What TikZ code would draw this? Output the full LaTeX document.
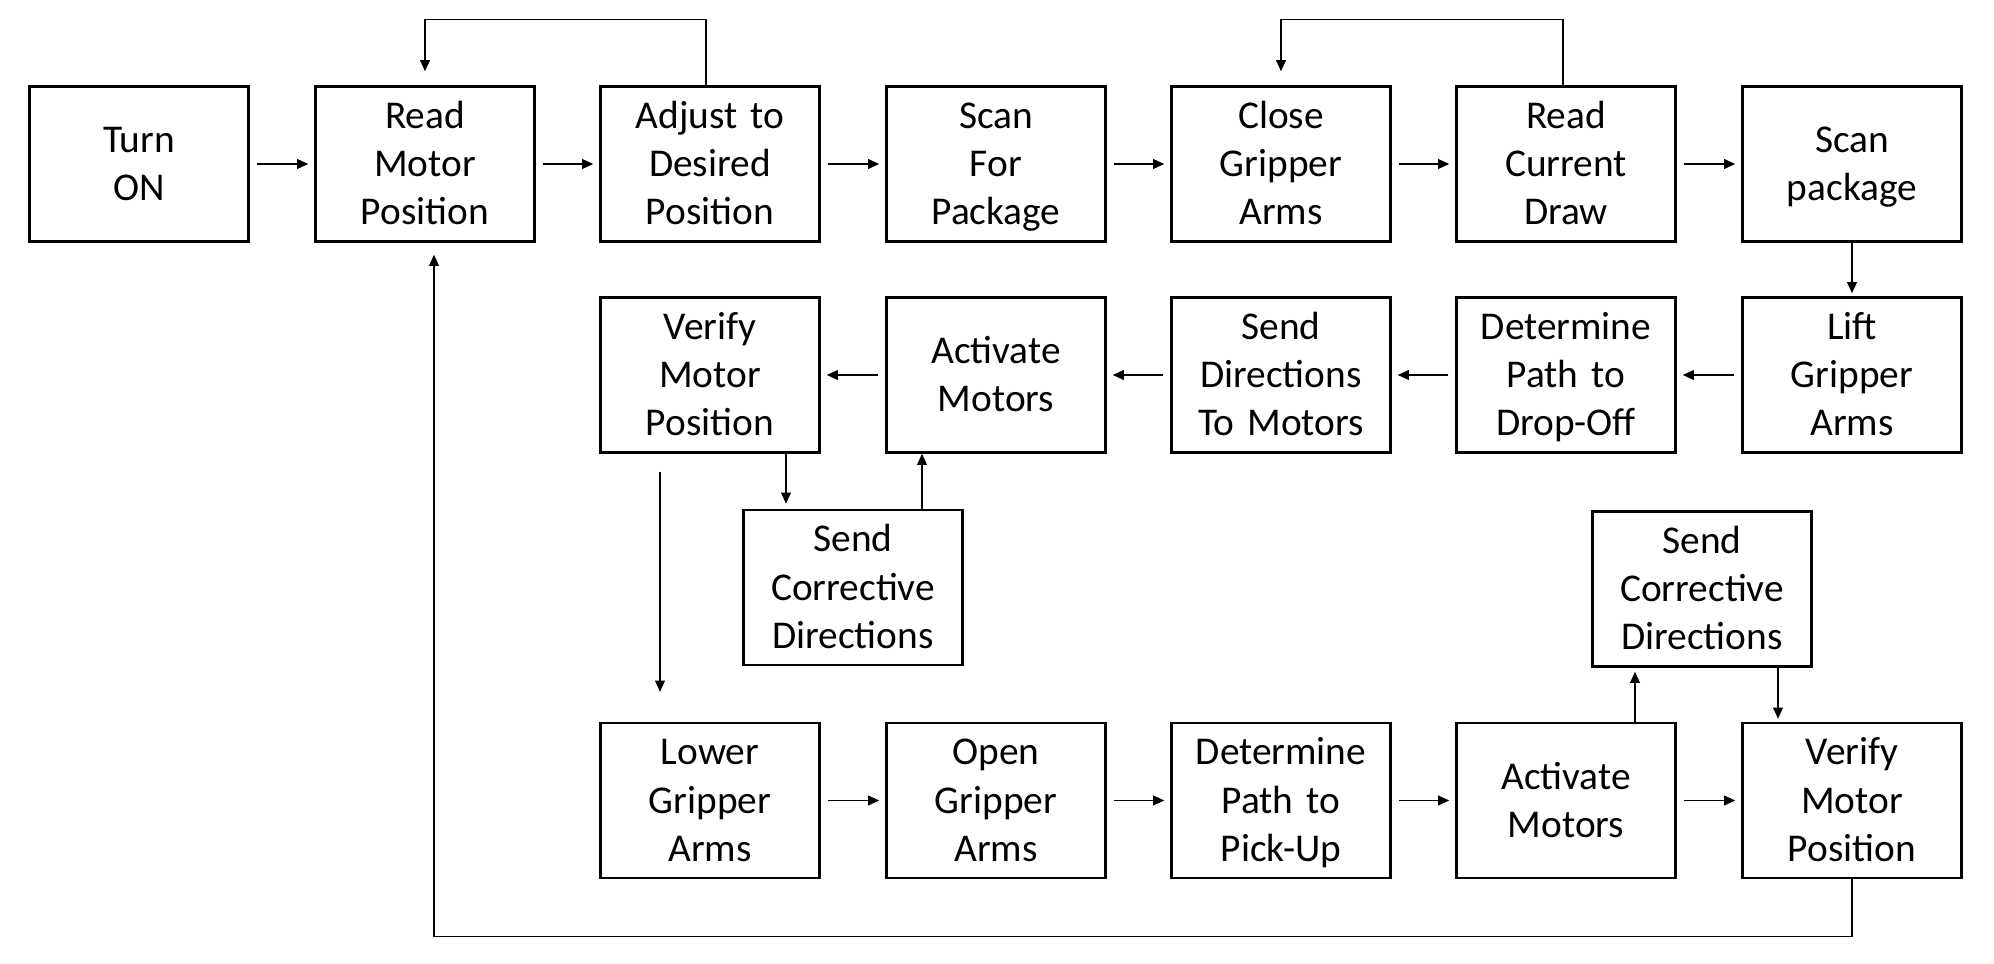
\documentclass[tikz,border=0pt]{standalone}
\usepackage{fontspec}
\setmainfont{Carlito}
\usepackage{tikz}
\usetikzlibrary{arrows.meta, shapes, positioning, calc}
\newcommand{\boxstrut}{\rule[-2.8pt]{0pt}{12.8pt}}

\begin{document}
\begin{tikzpicture}[
  box/.style={rectangle, draw=black, line width=0.7pt, fill=white,
              minimum width=2.19cm, minimum height=1.55cm, text width=2.1cm,
              align=center, inner sep=1pt, font=\fontsize{11.2}{13.7}\selectfont,
              execute at begin node=\boxstrut, execute at end node=\boxstrut},
  arrow/.style={-{Triangle[length=3.2pt, width=2.8pt]}, line width=0.4pt},
  gap/.style={shorten <=0.7mm, shorten >=0.6mm},
]
\useasboundingbox (0, 0) rectangle (19.94, 9.64);
\node[box] (turnon)    at (1.39, 8.00)  {Turn\\ON};
\node[box] (readpos)   at (4.25, 8.00)  {Read\\Motor\\Position};
\node[box] (adjust)    at (7.10, 8.00)  {Adjust to\\Desired\\Position};
\node[box] (scanfor)   at (9.96, 8.00)  {Scan\\For\\Package};
\node[box] (close)     at (12.81, 8.00) {Close\\Gripper\\Arms};
\node[box] (readcur)   at (15.66, 8.00) {Read\\Current\\Draw};
\node[box] (scanpkg)   at (18.52, 8.00) {Scan\\package};
\node[box] (lift)      at (18.52, 5.89) {Lift\\Gripper\\Arms};
\node[box] (droppath)  at (15.66, 5.89) {Determine\\Path to\\Drop-Off};
\node[box] (senddir)   at (12.81, 5.89) {Send\\Directions\\To Motors};
\node[box] (activateA) at (9.96, 5.89)  {Activate\\Motors};
\node[box] (verifyA)   at (7.10, 5.89)  {Verify\\Motor\\Position};
\node[box] (correctA)  at (8.53, 3.765) {Send\\Corrective\\Directions};
\node[box] (lower)     at (7.10, 1.635) {Lower\\Gripper\\Arms};
\node[box] (open)      at (9.96, 1.635) {Open\\Gripper\\Arms};
\node[box] (pickpath)  at (12.81, 1.635) {Determine\\Path to\\Pick-Up};
\node[box] (activateB) at (15.66, 1.635) {Activate\\Motors};
\node[box] (verifyB)   at (18.52, 1.635) {Verify\\Motor\\Position};
\node[box] (correctB)  at (17.02, 3.75) {Send\\Corrective\\Directions};
\draw[arrow, gap] (turnon)    -- (readpos);
\draw[arrow, gap] (readpos)   -- (adjust);
\draw[arrow, gap] (adjust)    -- (scanfor);
\draw[arrow, gap] (scanfor)   -- (close);
\draw[arrow, gap] (close)     -- (readcur);
\draw[arrow, gap] (readcur)   -- (scanpkg);
\draw[arrow, shorten >=0.3mm] (scanpkg) -- (lift);
\draw[arrow, gap] (lift)      -- (droppath);
\draw[arrow, gap] (droppath)  -- (senddir);
\draw[arrow, gap] (senddir)   -- (activateA);
\draw[arrow, gap] (activateA) -- (verifyA);
\draw[arrow, gap] (lower)     -- (open);
\draw[arrow, gap] (open)      -- (pickpath);
\draw[arrow, gap] (pickpath)  -- (activateB);
\draw[arrow, gap] (activateB) -- (verifyB);
\draw[arrow, shorten >=1.4mm] ([xshift=-0.4mm]adjust.north) -- ++(0, 0.66) -| (readpos.north);
\draw[arrow, shorten >=1.4mm] ([xshift=-0.3mm]readcur.north) -- ++(0, 0.66) -| (close.north);
\draw[arrow, shorten >=0.5mm] ([xshift=7.6mm]verifyA.south) -- ([xshift=7.6mm]verifyA.south |- correctA.north);
\draw[arrow] ([xshift=6.9mm]correctA.north) -- ([xshift=6.9mm]correctA.north |- activateA.south);
\draw[arrow, shorten <=1.8mm, shorten >=3mm] ([xshift=-5mm]verifyA.south) -- ([xshift=-5mm]verifyA.south |- lower.north);
\draw[arrow, shorten >=0.4mm] ([xshift=6.9mm]activateB.north) -- ([xshift=6.9mm]activateB.north |- correctB.south);
\draw[arrow, shorten >=0.3mm] ([xshift=7.6mm]correctB.south) -- ([xshift=7.6mm]correctB.south |- verifyB.north);
\draw[arrow, shorten >=1.2mm] (verifyB.south) -- ++(0, -0.57) -| ([xshift=0.9mm]readpos.south);
\end{tikzpicture}
\end{document}
